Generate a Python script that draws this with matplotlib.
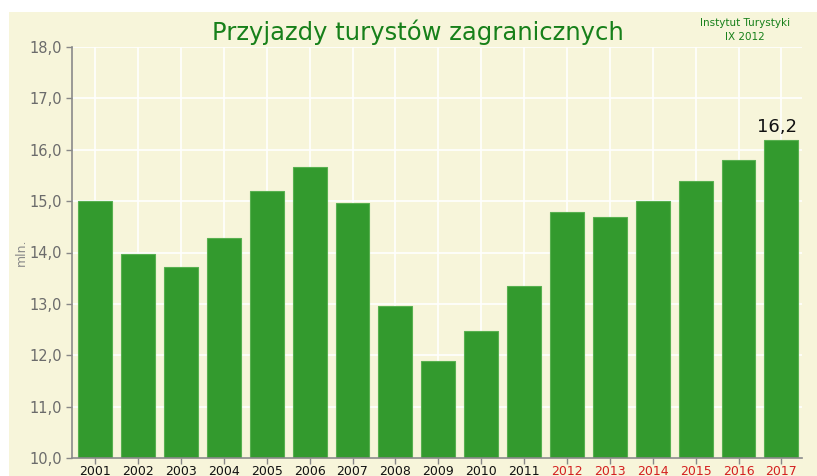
import numpy as np
import matplotlib.pyplot as plt
from matplotlib.patches import Rectangle

years = [str(y) for y in range(2001, 2018)]
values = [15.0, 13.97, 13.72, 14.28, 15.2, 15.66, 14.96, 12.96, 11.89,
          12.47, 13.35, 14.79, 14.69, 15.0, 15.39, 15.8, 16.19]
forecast_from = "2012"
yticks = np.arange(10, 18.1, 1.0)

BG = "#f7f5da"; BAR = "#339a2e"; TITLE = "#17801a"

fig = plt.figure(figsize=(8.17, 4.76), dpi=100, facecolor="white")
fig.patches.append(Rectangle((9 / 817, 0), 1, 1 - 12 / 476, transform=fig.transFigure,
                             facecolor=BG, edgecolor="none", zorder=-5))
ax = fig.add_axes([72 / 817, 18 / 476, 730 / 817, 411 / 476])
ax.set_facecolor(BG)

x = np.arange(len(years))
ax.bar(x, values, width=0.79, bottom=0, color=BAR, edgecolor="#58b050", lw=0.8, zorder=2)
ax.set_xlim(-0.54, 16.48)
ax.set_ylim(10, 18)
ax.set_yticks(yticks)
ax.set_yticklabels([f"{v:.1f}".replace(".", ",") for v in yticks], color="#6b6b6b", fontsize=10.5)
ax.set_xticks(x)
ax.set_xticklabels(years, fontsize=9)
for lab in ax.get_xticklabels():
    lab.set_color("#d42020" if lab.get_text() >= forecast_from else "#111111")
ax.tick_params(axis="both", length=4, color="#888888", width=1)
ax.tick_params(axis="x", pad=1)
ax.grid(True, color="white", lw=1.2, zorder=0)
ax.set_axisbelow(True)
for s in ["top", "right"]:
    ax.spines[s].set_visible(False)
for s in ["left", "bottom"]:
    ax.spines[s].set_color("#8a8a8a"); ax.spines[s].set_linewidth(1.2)
ax.set_ylabel("mln.", color="#8a8a8a", fontsize=9, labelpad=1)

ax.text(x[-1] - 0.1, values[-1] + 0.08, f"{values[-1]:.1f}".replace(".", ","),
        ha="center", va="bottom", fontsize=13, color="#111111")
fig.text(418 / 817, 1 - 32 / 476, "Przyjazdy turystów zagranicznych", ha="center", va="center",
         fontsize=17.5, color=TITLE)
fig.text(745 / 817, 1 - 30 / 476, "Instytut Turystyki\nIX 2012", ha="center", va="center",
         fontsize=7.5, color=TITLE, linespacing=1.45)

fig.savefig("out.png", dpi=100, facecolor=fig.get_facecolor())
